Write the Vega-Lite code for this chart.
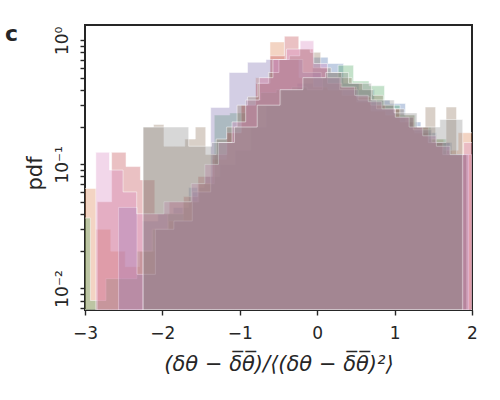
{
  "$schema": "https://vega.github.io/schema/vega-lite/v6.json",
  "width": 387,
  "height": 285,
  "autosize": {"type": "none"},
  "padding": {"left": 85, "top": 25, "right": 28, "bottom": 90},
  "background": "white",
  "config": {
    "font": "DejaVu Sans",
    "view": {"stroke": "#262626", "strokeWidth": 2},
    "axis": {"grid": false, "domain": false, "tickColor": "#262626", "tickWidth": 1.4, "tickSize": 5, "labelColor": "#262626", "titleColor": "#262626", "labelFont": "DejaVu Sans", "titleFont": "DejaVu Sans", "labelFontSize": 17, "titleFontWeight": "normal"}
  },
  "title": {"text": "c", "anchor": "start", "frame": "group", "dx": -80, "dy": 38, "offset": 0, "baseline": "alphabetic", "fontSize": 22, "fontWeight": "bold", "color": "#262626", "font": "DejaVu Sans"},
  "data": {"values": [
    {"s":"blue","x0":-2.26,"x1":-2.06,"v":0.035},{"s":"blue","x0":-2.06,"x1":-1.86,"v":0.04},{"s":"blue","x0":-1.86,"x1":-1.66,"v":0.045},{"s":"blue","x0":-1.66,"x1":-1.46,"v":0.065},{"s":"blue","x0":-1.46,"x1":-1.26,"v":0.08},{"s":"blue","x0":-1.26,"x1":-1.06,"v":0.1},{"s":"blue","x0":-1.06,"x1":-0.86,"v":0.13},{"s":"blue","x0":-0.86,"x1":-0.66,"v":0.2},{"s":"blue","x0":-0.66,"x1":-0.46,"v":0.3},{"s":"blue","x0":-0.46,"x1":-0.26,"v":0.4},{"s":"blue","x0":-0.26,"x1":-0.06,"v":0.45},{"s":"blue","x0":-0.06,"x1":0.14,"v":0.73},{"s":"blue","x0":0.14,"x1":0.34,"v":0.65},{"s":"blue","x0":0.34,"x1":0.54,"v":0.45},{"s":"blue","x0":0.54,"x1":0.74,"v":0.4},{"s":"blue","x0":0.74,"x1":0.94,"v":0.33},{"s":"blue","x0":0.94,"x1":1.14,"v":0.31},{"s":"blue","x0":1.14,"x1":1.34,"v":0.22},{"s":"blue","x0":1.34,"x1":1.54,"v":0.18},{"s":"blue","x0":1.54,"x1":1.74,"v":0.15},{"s":"blue","x0":1.74,"x1":1.94,"v":0.12},
    {"s":"orange","x0":-3.041,"x1":-2.854,"v":0.064},{"s":"orange","x0":-2.854,"x1":-2.667,"v":0.03},{"s":"orange","x0":-2.667,"x1":-2.48,"v":0.02},{"s":"orange","x0":-2.48,"x1":-2.293,"v":0.015},{"s":"orange","x0":-2.293,"x1":-2.106,"v":0.02},{"s":"orange","x0":-2.106,"x1":-1.919,"v":0.03},{"s":"orange","x0":-1.919,"x1":-1.732,"v":0.035},{"s":"orange","x0":-1.732,"x1":-1.545,"v":0.05},{"s":"orange","x0":-1.545,"x1":-1.358,"v":0.07},{"s":"orange","x0":-1.358,"x1":-1.171,"v":0.11},{"s":"orange","x0":-1.171,"x1":-0.984,"v":0.18},{"s":"orange","x0":-0.984,"x1":-0.797,"v":0.3},{"s":"orange","x0":-0.797,"x1":-0.61,"v":0.5},{"s":"orange","x0":-0.61,"x1":-0.423,"v":0.97},{"s":"orange","x0":-0.423,"x1":-0.236,"v":0.7},{"s":"orange","x0":-0.236,"x1":-0.049,"v":0.5},{"s":"orange","x0":-0.049,"x1":0.138,"v":0.42},{"s":"orange","x0":0.138,"x1":0.325,"v":0.4},{"s":"orange","x0":0.325,"x1":0.512,"v":0.36},{"s":"orange","x0":0.512,"x1":0.699,"v":0.32},{"s":"orange","x0":0.699,"x1":0.886,"v":0.27},{"s":"orange","x0":0.886,"x1":1.073,"v":0.25},{"s":"orange","x0":1.073,"x1":1.26,"v":0.22},{"s":"orange","x0":1.26,"x1":1.447,"v":0.18},{"s":"orange","x0":1.447,"x1":1.634,"v":0.16},{"s":"orange","x0":1.634,"x1":1.821,"v":0.13},{"s":"orange","x0":1.821,"x1":2.008,"v":0.18},
    {"s":"green","x0":-3.13,"x1":-2.93,"v":0.037},{"s":"green","x0":-2.93,"x1":-2.73,"v":0.008},{"s":"green","x0":-2.73,"x1":-2.53,"v":0.012},{"s":"green","x0":-2.53,"x1":-2.33,"v":0.012},{"s":"green","x0":-2.33,"x1":-2.13,"v":0.02},{"s":"green","x0":-2.13,"x1":-1.93,"v":0.03},{"s":"green","x0":-1.93,"x1":-1.73,"v":0.04},{"s":"green","x0":-1.73,"x1":-1.53,"v":0.05},{"s":"green","x0":-1.53,"x1":-1.33,"v":0.07},{"s":"green","x0":-1.33,"x1":-1.13,"v":0.25},{"s":"green","x0":-1.13,"x1":-0.93,"v":0.26},{"s":"green","x0":-0.93,"x1":-0.73,"v":0.33},{"s":"green","x0":-0.73,"x1":-0.53,"v":0.38},{"s":"green","x0":-0.53,"x1":-0.33,"v":0.4},{"s":"green","x0":-0.33,"x1":-0.13,"v":0.42},{"s":"green","x0":-0.13,"x1":0.07,"v":0.4},{"s":"green","x0":0.07,"x1":0.27,"v":0.5},{"s":"green","x0":0.27,"x1":0.47,"v":0.63},{"s":"green","x0":0.47,"x1":0.67,"v":0.47},{"s":"green","x0":0.67,"x1":0.87,"v":0.43},{"s":"green","x0":0.87,"x1":1.07,"v":0.3},{"s":"green","x0":1.07,"x1":1.27,"v":0.25},{"s":"green","x0":1.27,"x1":1.47,"v":0.2},{"s":"green","x0":1.47,"x1":1.67,"v":0.16},{"s":"green","x0":1.67,"x1":1.87,"v":0.12},
    {"s":"red","x0":-2.842,"x1":-2.656,"v":0.05},{"s":"red","x0":-2.656,"x1":-2.47,"v":0.125},{"s":"red","x0":-2.47,"x1":-2.284,"v":0.096},{"s":"red","x0":-2.284,"x1":-2.098,"v":0.075},{"s":"red","x0":-2.098,"x1":-1.912,"v":0.04},{"s":"red","x0":-1.912,"x1":-1.726,"v":0.05},{"s":"red","x0":-1.726,"x1":-1.54,"v":0.055},{"s":"red","x0":-1.54,"x1":-1.354,"v":0.08},{"s":"red","x0":-1.354,"x1":-1.168,"v":0.12},{"s":"red","x0":-1.168,"x1":-0.982,"v":0.18},{"s":"red","x0":-0.982,"x1":-0.796,"v":0.3},{"s":"red","x0":-0.796,"x1":-0.61,"v":0.45},{"s":"red","x0":-0.61,"x1":-0.424,"v":0.75},{"s":"red","x0":-0.424,"x1":-0.238,"v":1.08},{"s":"red","x0":-0.238,"x1":-0.052,"v":0.85},{"s":"red","x0":-0.052,"x1":0.134,"v":0.6},{"s":"red","x0":0.134,"x1":0.32,"v":0.45},{"s":"red","x0":0.32,"x1":0.506,"v":0.42},{"s":"red","x0":0.506,"x1":0.692,"v":0.35},{"s":"red","x0":0.692,"x1":0.878,"v":0.3},{"s":"red","x0":0.878,"x1":1.064,"v":0.28},{"s":"red","x0":1.064,"x1":1.25,"v":0.24},{"s":"red","x0":1.25,"x1":1.436,"v":0.2},{"s":"red","x0":1.436,"x1":1.622,"v":0.15},{"s":"red","x0":1.622,"x1":1.808,"v":0.12},{"s":"red","x0":1.808,"x1":1.994,"v":0.12},
    {"s":"purple","x0":-2.566,"x1":-2.328,"v":0.045},{"s":"purple","x0":-2.328,"x1":-2.09,"v":0.013},{"s":"purple","x0":-2.09,"x1":-1.852,"v":0.03},{"s":"purple","x0":-1.852,"x1":-1.614,"v":0.035},{"s":"purple","x0":-1.614,"x1":-1.376,"v":0.06},{"s":"purple","x0":-1.376,"x1":-1.138,"v":0.288},{"s":"purple","x0":-1.138,"x1":-0.9,"v":0.55},{"s":"purple","x0":-0.9,"x1":-0.662,"v":0.665},{"s":"purple","x0":-0.662,"x1":-0.424,"v":0.7},{"s":"purple","x0":-0.424,"x1":-0.186,"v":0.7},{"s":"purple","x0":-0.186,"x1":0.052,"v":0.55},{"s":"purple","x0":0.052,"x1":0.29,"v":0.5},{"s":"purple","x0":0.29,"x1":0.528,"v":0.4},{"s":"purple","x0":0.528,"x1":0.766,"v":0.33},{"s":"purple","x0":0.766,"x1":1.004,"v":0.28},{"s":"purple","x0":1.004,"x1":1.242,"v":0.24},{"s":"purple","x0":1.242,"x1":1.48,"v":0.19},{"s":"purple","x0":1.48,"x1":1.718,"v":0.15},{"s":"purple","x0":1.718,"x1":1.956,"v":0.12},
    {"s":"brown","x0":-2.25,"x1":-2.115,"v":0.2},{"s":"brown","x0":-2.115,"x1":-1.98,"v":0.21},{"s":"brown","x0":-1.98,"x1":-1.845,"v":0.14},{"s":"brown","x0":-1.845,"x1":-1.71,"v":0.14},{"s":"brown","x0":-1.71,"x1":-1.575,"v":0.16},{"s":"brown","x0":-1.575,"x1":-1.44,"v":0.2},{"s":"brown","x0":-1.44,"x1":-1.305,"v":0.12},{"s":"brown","x0":-1.305,"x1":-1.17,"v":0.16},{"s":"brown","x0":-1.17,"x1":-1.035,"v":0.2},{"s":"brown","x0":-1.035,"x1":-0.9,"v":0.3},{"s":"brown","x0":-0.9,"x1":-0.765,"v":0.35},{"s":"brown","x0":-0.765,"x1":-0.63,"v":0.45},{"s":"brown","x0":-0.63,"x1":-0.495,"v":0.55},{"s":"brown","x0":-0.495,"x1":-0.36,"v":0.7},{"s":"brown","x0":-0.36,"x1":-0.225,"v":0.75},{"s":"brown","x0":-0.225,"x1":-0.09,"v":0.85},{"s":"brown","x0":-0.09,"x1":0.045,"v":0.8},{"s":"brown","x0":0.045,"x1":0.18,"v":0.6},{"s":"brown","x0":0.18,"x1":0.315,"v":0.55},{"s":"brown","x0":0.315,"x1":0.45,"v":0.5},{"s":"brown","x0":0.45,"x1":0.585,"v":0.45},{"s":"brown","x0":0.585,"x1":0.72,"v":0.4},{"s":"brown","x0":0.72,"x1":0.855,"v":0.36},{"s":"brown","x0":0.855,"x1":0.99,"v":0.3},{"s":"brown","x0":0.99,"x1":1.125,"v":0.28},{"s":"brown","x0":1.125,"x1":1.26,"v":0.25},{"s":"brown","x0":1.26,"x1":1.395,"v":0.2},{"s":"brown","x0":1.395,"x1":1.53,"v":0.29},{"s":"brown","x0":1.53,"x1":1.665,"v":0.15},{"s":"brown","x0":1.665,"x1":1.8,"v":0.29},{"s":"brown","x0":1.8,"x1":1.935,"v":0.12},
    {"s":"pink","x0":-2.86,"x1":-2.684,"v":0.125},{"s":"pink","x0":-2.684,"x1":-2.508,"v":0.09},{"s":"pink","x0":-2.508,"x1":-2.332,"v":0.06},{"s":"pink","x0":-2.332,"x1":-2.156,"v":0.04},{"s":"pink","x0":-2.156,"x1":-1.98,"v":0.04},{"s":"pink","x0":-1.98,"x1":-1.804,"v":0.05},{"s":"pink","x0":-1.804,"x1":-1.628,"v":0.05},{"s":"pink","x0":-1.628,"x1":-1.452,"v":0.07},{"s":"pink","x0":-1.452,"x1":-1.276,"v":0.1},{"s":"pink","x0":-1.276,"x1":-1.1,"v":0.15},{"s":"pink","x0":-1.1,"x1":-0.924,"v":0.22},{"s":"pink","x0":-0.924,"x1":-0.748,"v":0.33},{"s":"pink","x0":-0.748,"x1":-0.572,"v":0.5},{"s":"pink","x0":-0.572,"x1":-0.396,"v":0.7},{"s":"pink","x0":-0.396,"x1":-0.22,"v":0.85},{"s":"pink","x0":-0.22,"x1":-0.044,"v":0.99},{"s":"pink","x0":-0.044,"x1":0.132,"v":0.65},{"s":"pink","x0":0.132,"x1":0.308,"v":0.5},{"s":"pink","x0":0.308,"x1":0.484,"v":0.42},{"s":"pink","x0":0.484,"x1":0.66,"v":0.36},{"s":"pink","x0":0.66,"x1":0.836,"v":0.32},{"s":"pink","x0":0.836,"x1":1.012,"v":0.28},{"s":"pink","x0":1.012,"x1":1.188,"v":0.24},{"s":"pink","x0":1.188,"x1":1.364,"v":0.2},{"s":"pink","x0":1.364,"x1":1.54,"v":0.17},{"s":"pink","x0":1.54,"x1":1.716,"v":0.14},{"s":"pink","x0":1.716,"x1":1.892,"v":0.12},{"s":"pink","x0":1.892,"x1":2.068,"v":0.15},
    {"s":"gray","x0":-2.25,"x1":-1.955,"v":0.2},{"s":"gray","x0":-1.955,"x1":-1.66,"v":0.2},{"s":"gray","x0":-1.66,"x1":-1.365,"v":0.14},{"s":"gray","x0":-1.365,"x1":-1.07,"v":0.15},{"s":"gray","x0":-1.07,"x1":-0.775,"v":0.2},{"s":"gray","x0":-0.775,"x1":-0.48,"v":0.3},{"s":"gray","x0":-0.48,"x1":-0.185,"v":0.4},{"s":"gray","x0":-0.185,"x1":0.11,"v":0.5},{"s":"gray","x0":0.11,"x1":0.405,"v":0.55},{"s":"gray","x0":0.405,"x1":0.7,"v":0.45},{"s":"gray","x0":0.7,"x1":0.995,"v":0.33},{"s":"gray","x0":0.995,"x1":1.29,"v":0.26},{"s":"gray","x0":1.29,"x1":1.585,"v":0.2},{"s":"gray","x0":1.585,"x1":1.88,"v":0.23}
  ]},
  "transform": [{"fold": ["x0", "x1"], "as": ["key", "x"]}],
  "mark": {"type": "area", "clip": true, "fillOpacity": 0.35, "stroke": "white", "strokeOpacity": 0.5, "strokeWidth": 1, "interpolate": "linear"},
  "encoding": {
    "x": {"field": "x", "type": "quantitative", "scale": {"domain": [-3, 2], "nice": false, "zero": false},
      "axis": {"values": [-3, -2, -1, 0, 1, 2], "labelPadding": 10, "labelFlush": false, "title": "(δθ − δ̅θ̅)/⟨(δθ − δ̅θ̅)²⟩", "titleFontSize": 21, "titleFontStyle": "italic", "titlePadding": 12}},
    "y": {"field": "v", "type": "quantitative", "stack": null, "scale": {"type": "log", "domain": [0.00671, 1.328], "clamp": true, "nice": false},
      "axis": {"values": [0.007, 0.008, 0.009, 0.01, 0.02, 0.03, 0.04, 0.05, 0.06, 0.07, 0.08, 0.09, 0.1, 0.2, 0.3, 0.4, 0.5, 0.6, 0.7, 0.8, 0.9, 1],
        "labelExpr": "datum.value == 1 ? '10⁰' : datum.value == 0.1 ? '10⁻¹' : datum.value == 0.01 ? '10⁻²' : ''",
        "labelAngle": 270, "labelAlign": "center", "labelBaseline": "alphabetic", "labelPadding": 13, "labelFlush": false, "labelOverlap": false,
        "title": "pdf", "titleFontSize": 21, "titlePadding": 8, "titleY": 148}},
    "y2": {"datum": 0.0001},
    "color": {"field": "s", "type": "nominal", "legend": null,
      "scale": {"domain": ["blue", "orange", "green", "red", "purple", "brown", "pink", "gray"], "range": ["#4C72B0", "#DD8452", "#55A868", "#C44E52", "#8172B3", "#937860", "#DA8BC3", "#8C8C8C"]}},
    "order": [{"field": "x", "type": "quantitative"}, {"field": "key", "type": "nominal", "sort": "descending"}]
  }
}
